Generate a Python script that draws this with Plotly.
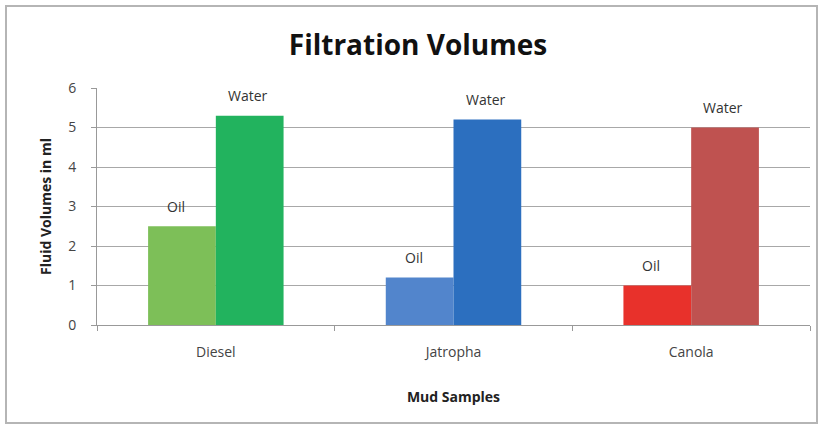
import plotly.graph_objects as go

categories = ["Diesel", "Jatropha", "Canola"]
oil = [2.5, 1.2, 1.0]
water = [5.3, 5.2, 5.0]
oil_colors = ["#7DBF58", "#5285CC", "#E8312B"]
water_colors = ["#22B35E", "#2C6FBF", "#BF5250"]
y_ticks = [0, 1, 2, 3, 4, 5, 6]

W, H = 823, 428
L, R, T, B = 97, 13, 88, 103
pw, ph = W - L - R, H - T - B

fig = go.Figure()
fig.add_trace(go.Bar(x=categories, y=oil, name="Oil", marker=dict(color=oil_colors, line=dict(width=0))))
fig.add_trace(go.Bar(x=categories, y=water, name="Water", marker=dict(color=water_colors, line=dict(width=0))))

font = "'Open Sans', sans-serif"
for name, vals, sh in [("Oil", oil, -40), ("Water", water, 32)]:
    for c, v in zip(categories, vals):
        fig.add_annotation(x=c, y=v, text=name, showarrow=False, xshift=sh,
                           yshift=20, font=dict(family=font, size=14, color="#333"))

def px_x(p):
    return (p - L) / pw

def px_y(p):
    return (H - B - p) / ph

fig.add_shape(type="rect", xref="paper", yref="paper",
              x0=px_x(6), x1=px_x(817), y0=px_y(423), y1=px_y(6),
              line=dict(color="#B5B5B5", width=2), layer="below")

fig.update_layout(
    width=W, height=H,
    margin=dict(l=L, r=R, t=T, b=B),
    paper_bgcolor="white", plot_bgcolor="white",
    showlegend=False,
    barmode="group", bargap=0.43, bargroupgap=0,
    title=dict(text="<b>Filtration Volumes</b>", x=418 / W, xanchor="center", y=1 - 45 / H, yanchor="middle",
               font=dict(family=font, size=28, color="#111")),
    font=dict(family=font, size=14, color="#444"),
)
fig.update_xaxes(
    showline=True, linecolor="#999", linewidth=1,
    ticks="outside", tickson="boundaries", ticklen=5, tickcolor="#999",
    tickfont=dict(size=14, color="#444"), ticklabelstandoff=14,
    title=dict(text="<b>Mud Samples</b>", font=dict(size=14, color="#222"), standoff=32),
)
fig.update_yaxes(
    range=[0, 6], tickvals=y_ticks,
    showgrid=True, gridcolor="#A8A8A8", gridwidth=1,
    showline=True, linecolor="#999", linewidth=1,
    ticks="outside", ticklen=5, tickcolor="#999",
    tickfont=dict(size=14, color="#444"), ticklabelstandoff=12,
    title=dict(text="<b>Fluid Volumes in ml</b>", font=dict(size=14, color="#222"), standoff=13),
    zeroline=False,
)

fig.write_html("out.html")
